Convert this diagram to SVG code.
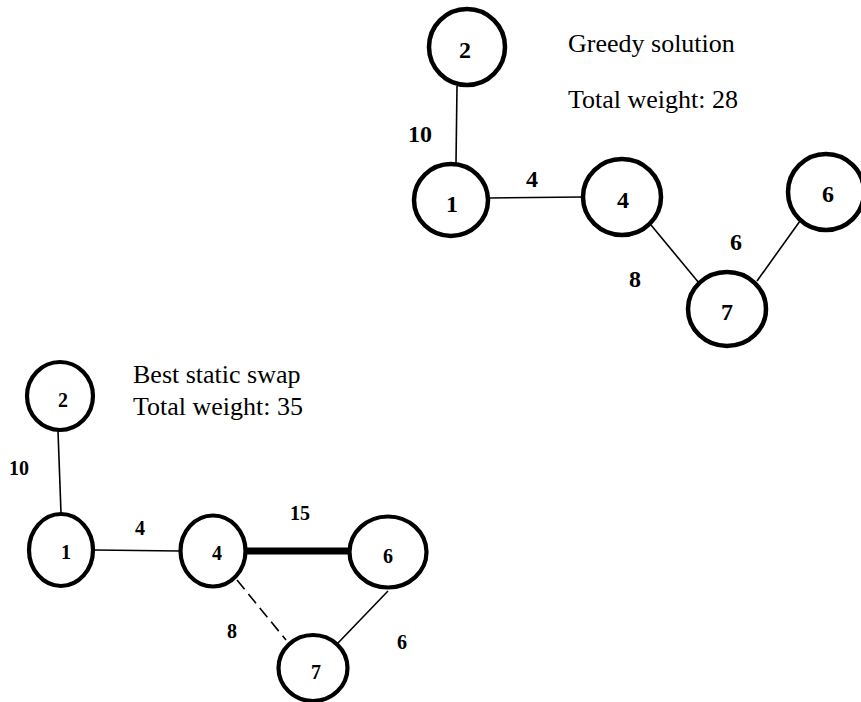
<svg xmlns="http://www.w3.org/2000/svg" width="861" height="702" viewBox="0 0 861 702">
  <style>
    .node ellipse { fill: #fff; stroke: #000; stroke-width: 4.5; }
    .lower .node ellipse { stroke-width: 4.2; }
    .edge { stroke: #000; stroke-width: 1.6; fill: none; }
    .heavy { stroke-width: 7; }
    .dash { stroke-dasharray: 12 6; }
    .num { font-family: "Liberation Serif", "Times New Roman", serif; font-weight: bold; text-anchor: middle; fill: #000; }
    .big { font-size: 24px; }
    .small { font-size: 20px; }
    .caption { font-family: "Liberation Serif", "Times New Roman", serif; font-size: 26px; fill: #000; }
  </style>
  <rect width="861" height="702" fill="#fff"/>

  <!-- Greedy solution tree -->
  <g id="greedy">
    <g id="greedy-edges">
      <line class="edge" x1="457" y1="86" x2="456" y2="163"/>
      <line class="edge" x1="489" y1="198" x2="582" y2="197"/>
      <line class="edge" x1="651" y1="225" x2="699" y2="283"/>
      <line class="edge" x1="757" y1="281" x2="800" y2="221"/>
    </g>
    <g id="greedy-edge-labels">
      <text class="num big" x="420" y="142">10</text>
      <text class="num big" x="532" y="187">4</text>
      <text class="num big" x="635" y="287">8</text>
      <text class="num big" x="736" y="250">6</text>
    </g>
    <g id="g-n2" class="node"><ellipse cx="467" cy="47" rx="38" ry="38"/><text class="num big" x="465" y="58">2</text></g>
    <g id="g-n1" class="node"><ellipse cx="451" cy="200" rx="37" ry="36"/><text class="num big" x="452" y="212">1</text></g>
    <g id="g-n4" class="node"><ellipse cx="622" cy="197" rx="39" ry="38"/><text class="num big" x="623" y="208">4</text></g>
    <g id="g-n6" class="node"><ellipse cx="826" cy="192" rx="38" ry="38"/><text class="num big" x="828" y="202">6</text></g>
    <g id="g-n7" class="node"><ellipse cx="727" cy="309" rx="39" ry="37"/><text class="num big" x="727" y="320">7</text></g>
    <text class="caption" x="568" y="52">Greedy solution</text>
    <text class="caption" x="568" y="108">Total weight: 28</text>
  </g>

  <!-- Best static swap tree -->
  <g id="swap" class="lower">
    <g id="swap-edges">
      <line class="edge" x1="58" y1="431" x2="61" y2="513"/>
      <line class="edge" x1="94" y1="550" x2="180" y2="551"/>
      <line class="edge heavy" x1="246" y1="551" x2="349" y2="551"/>
      <line class="edge dash" x1="237" y1="580" x2="286" y2="640"/>
      <line class="edge" x1="338" y1="643" x2="388" y2="591"/>
    </g>
    <g id="swap-edge-labels">
      <text class="num small" x="19" y="475">10</text>
      <text class="num small" x="140" y="535">4</text>
      <text class="num small" x="300" y="520">15</text>
      <text class="num small" x="232" y="638">8</text>
      <text class="num small" x="402" y="649">6</text>
    </g>
    <g id="s-n2" class="node"><ellipse cx="60" cy="396" rx="33" ry="34"/><text class="num small" x="63" y="407">2</text></g>
    <g id="s-n1" class="node"><ellipse cx="61" cy="550" rx="32" ry="36"/><text class="num small" x="66" y="559">1</text></g>
    <g id="s-n4" class="node"><ellipse cx="213" cy="551" rx="32.5" ry="35.5"/><text class="num small" x="217" y="560">4</text></g>
    <g id="s-n6" class="node"><ellipse cx="388" cy="552" rx="38.5" ry="35.5"/><text class="num small" x="388" y="563">6</text></g>
    <g id="s-n7" class="node"><ellipse cx="313" cy="668" rx="34.5" ry="33"/><text class="num small" x="316" y="679">7</text></g>
    <text class="caption" x="133" y="383">Best static swap</text>
    <text class="caption" x="133" y="415">Total weight: 35</text>
  </g>
</svg>
